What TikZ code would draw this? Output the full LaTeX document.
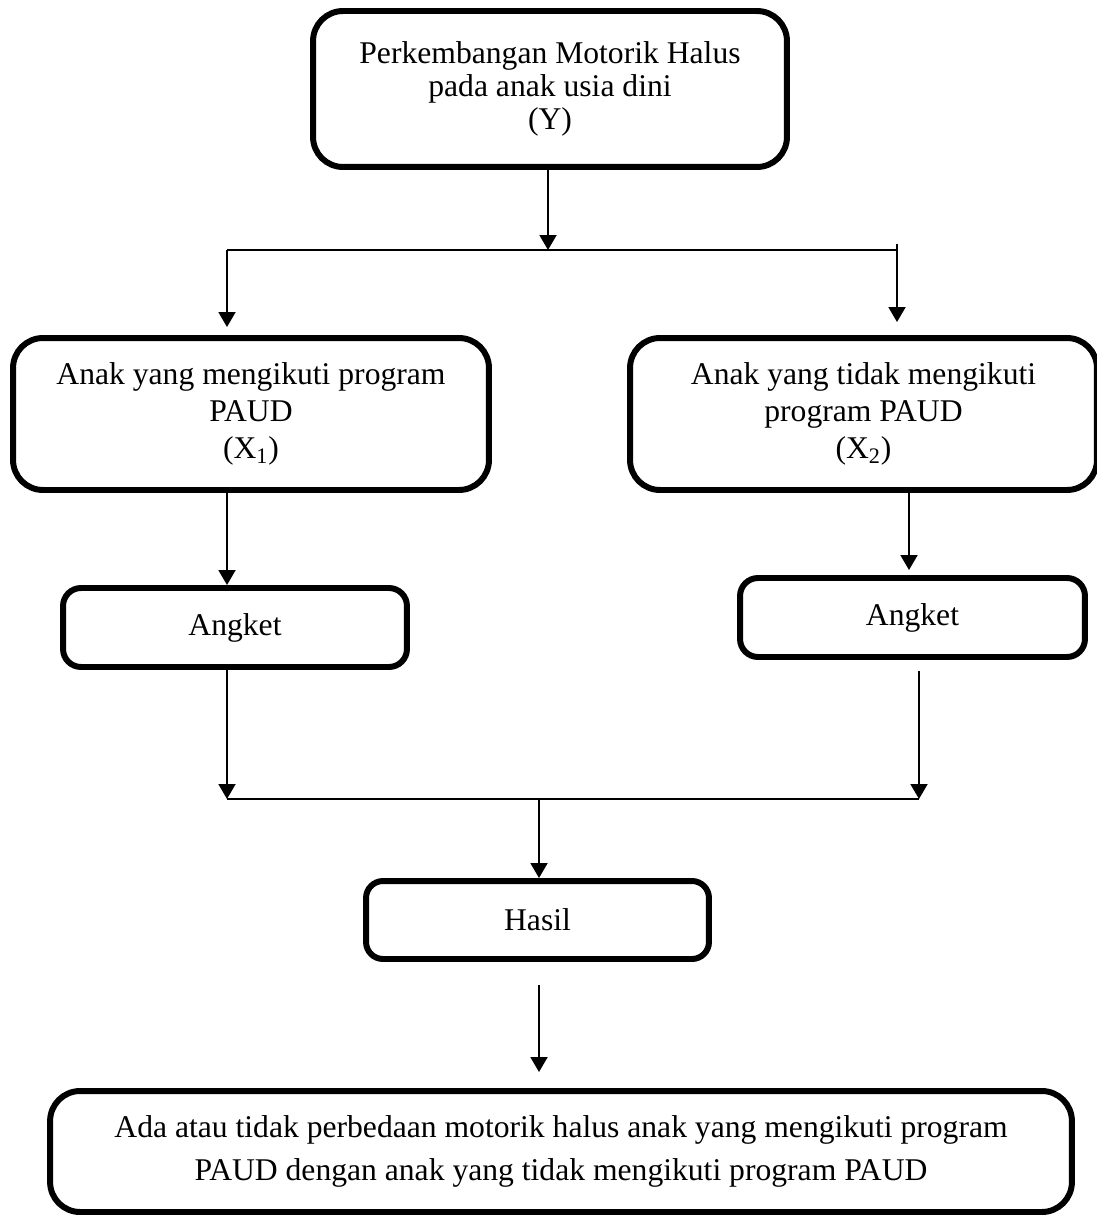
\documentclass[tikz,border=0pt]{standalone}
\usepackage{fontspec}
\setmainfont{Liberation Serif}
\usetikzlibrary{arrows.meta}
\begin{document}
\begin{tikzpicture}[x=0.02cm,y=-0.02cm,>={Triangle[width=0.34cm,length=0.3cm]},
    kotak/.style={draw,line width=3.4pt,rounded corners=0.6cm,align=center,inner sep=0pt},
    garis/.style={line width=1.1pt},
    panah/.style={->,line width=1.1pt}]
    \useasboundingbox (0,0) rectangle (1097,1216);
    \node[kotak,minimum width=9.48cm,minimum height=3.12cm,font=\fontsize{18}{18.8}\selectfont] (varY) at (550,89) {Perkembangan Motorik Halus\\pada anak usia dini\\(Y)};
    \node[kotak,minimum width=9.52cm,minimum height=3.04cm,font=\fontsize{18}{21}\selectfont] (varXa) at (251,414) {Anak yang mengikuti program\\PAUD\\(X\textsubscript{1})};
    \node[kotak,minimum width=9.34cm,minimum height=3.04cm,font=\fontsize{18}{21}\selectfont] (varXb) at (863.5,414) {Anak yang tidak mengikuti\\program PAUD\\(X\textsubscript{2})};
    \node[kotak,rounded corners=0.36cm,minimum width=6.88cm,minimum height=1.58cm,font=\fontsize{18}{21}\selectfont] (angketA) at (235,627.5) {Angket};
    \node[kotak,rounded corners=0.36cm,minimum width=6.9cm,minimum height=1.58cm,font=\fontsize{18}{21}\selectfont] (angketB) at (912.5,617.5) {Angket};
    \node[kotak,rounded corners=0.34cm,minimum width=6.86cm,minimum height=1.56cm,font=\fontsize{18}{21}\selectfont] (hasil) at (537.5,920) {Hasil};
    \node[kotak,minimum width=20.44cm,minimum height=2.42cm,font=\fontsize{18}{24}\selectfont] (kesimpulan) at (561,1151.5) {Ada atau tidak perbedaan motorik halus anak yang mengikuti program\\PAUD dengan anak yang tidak mengikuti program PAUD};
    % cabang atas
    \coordinate (cabang) at (548,250);
    \coordinate (kiriA) at (227,250);
    \coordinate (kananA) at (897,250);
    \draw[panah] (varY.south -| cabang) -- (cabang);
    \draw[garis] (kiriA) -- (kananA) -- ++(0,-6);
    \draw[panah,shorten >=0.16cm] (kiriA) -- (kiriA |- varXa.north);
    \draw[panah,shorten >=0.26cm] (kananA) -- (kananA |- varXb.north);
    \draw[panah] (varXa.south -| kiriA) -- (kiriA |- angketA.north);
    \draw[panah,shorten >=0.1cm] (varXb.south -| 909,0) -- (909,0 |- angketB.north);
    % gabung bawah
    \coordinate (gabungKiri) at (227,799);
    \coordinate (gabungKanan) at (919,799);
    \coordinate (gabung) at (539,799);
    \draw[panah] (angketA.south -| gabungKiri) -- (gabungKiri);
    \draw[panah,shorten <=0.22cm] (angketB.south -| gabungKanan) -- (gabungKanan);
    \draw[garis] (gabungKiri) -- (gabungKanan);
    \draw[panah] (gabung) -- (gabung |- hasil.north);
    \draw[panah,shorten <=0.46cm,shorten >=0.32cm] (gabung |- hasil.south) -- (gabung |- kesimpulan.north);
\end{tikzpicture}
\end{document}
